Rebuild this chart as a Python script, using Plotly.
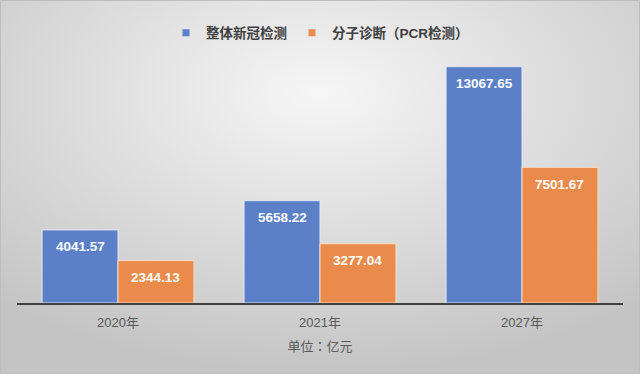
import base64
import plotly.graph_objects as go

categories = ["2020年", "2021年", "2027年"]
overall_values = [4041.57, 5658.22, 13067.65]
pcr_values = [2344.13, 3277.04, 7501.67]
series_names = ["整体新冠检测", "分子诊断（PCR检测）"]
axis_title = "单位：亿元"

BLUE = "#5b80c8"
ORANGE = "#ea8b4b"
FONT = "Liberation Sans, Noto Sans CJK SC, sans-serif"
FONT_JP = "Noto Sans CJK JP, sans-serif"

W, H = 640, 374
ML, MR, MT, MB = 17, 17, 60, 71
pw, ph = W - ML - MR, H - MT - MB

svg = f'''<svg xmlns="http://www.w3.org/2000/svg" width="{W}" height="{H}">
<defs><radialGradient id="g" cx="50%" cy="25%" r="75%" fx="50%" fy="25%">
<stop offset="0%" stop-color="#f6f6f6"/><stop offset="100%" stop-color="#c4c4c4"/></radialGradient></defs>
<rect width="{W}" height="{H}" fill="url(#g)"/></svg>'''
bg_uri = "data:image/svg+xml;base64," + base64.b64encode(svg.encode()).decode()

fig = go.Figure()
fig.add_trace(go.Bar(x=categories, y=overall_values, name=series_names[0],
                     marker=dict(color=BLUE, line=dict(color="#dfe6f3", width=1)),
                     showlegend=False))
fig.add_trace(go.Bar(x=categories, y=pcr_values, name=series_names[1],
                     marker=dict(color=ORANGE, line=dict(color="#f6dcc8", width=1)),
                     showlegend=False))
for name, col in zip(series_names, [BLUE, ORANGE]):
    fig.add_trace(go.Scatter(x=[None], y=[None], mode="markers", name=name,
                             marker=dict(symbol="square", size=7, color=col)))

ann = []
off = 0.188
for i in range(len(categories)):
    for vals, dx in ((overall_values, -off), (pcr_values, off)):
        ann.append(dict(x=i + dx, y=vals[i], xref="x", yref="y", text=f"{vals[i]:.2f}",
                        showarrow=False, yanchor="middle", yshift=-17,
                        font=dict(family=FONT, size=13.5, color="white", weight="bold")))

fig.update_layout(
    width=W, height=H,
    margin=dict(l=ML, r=MR, t=MT, b=MB),
    paper_bgcolor="rgba(0,0,0,0)", plot_bgcolor="rgba(0,0,0,0)",
    barmode="group", bargap=0.248, bargroupgap=0,
    showlegend=True,
    legend=dict(orientation="h", x=0.5, xanchor="center", y=1 + (MT - 33) / ph, yanchor="middle",
                font=dict(family=FONT, size=13.5, color="#404040", weight="bold"),
                itemwidth=30, itemclick=False, bgcolor="rgba(0,0,0,0)"),
    xaxis=dict(showline=True, linecolor="#404040", linewidth=2, ticks="",
               ticklabelstandoff=6,
               tickfont=dict(family=FONT, size=13, color="#595959"),
               title=dict(text=axis_title, standoff=13,
                          font=dict(family=FONT_JP, size=13, color="#595959"))),
    yaxis=dict(visible=False, range=[0, ph / 0.018083], showgrid=False, zeroline=False),
    annotations=ann,
    images=[dict(source=bg_uri, xref="paper", yref="paper",
                 x=-ML / pw, y=1 + MT / ph, sizex=W / pw, sizey=H / ph,
                 xanchor="left", yanchor="top", sizing="stretch", layer="below")],
    shapes=[dict(type="rect", xref="paper", yref="paper",
                 x0=-ML / pw + 0.5 / pw, x1=1 + MR / pw - 0.5 / pw,
                 y0=-MB / ph + 0.5 / ph, y1=1 + MT / ph - 0.5 / ph,
                 line=dict(color="#bdbdbd", width=1), layer="below")],
)

fig.write_html("out.html", config={"displayModeBar": False},
               post_script="document.body.style.margin='0';document.body.style.overflow='hidden';")
